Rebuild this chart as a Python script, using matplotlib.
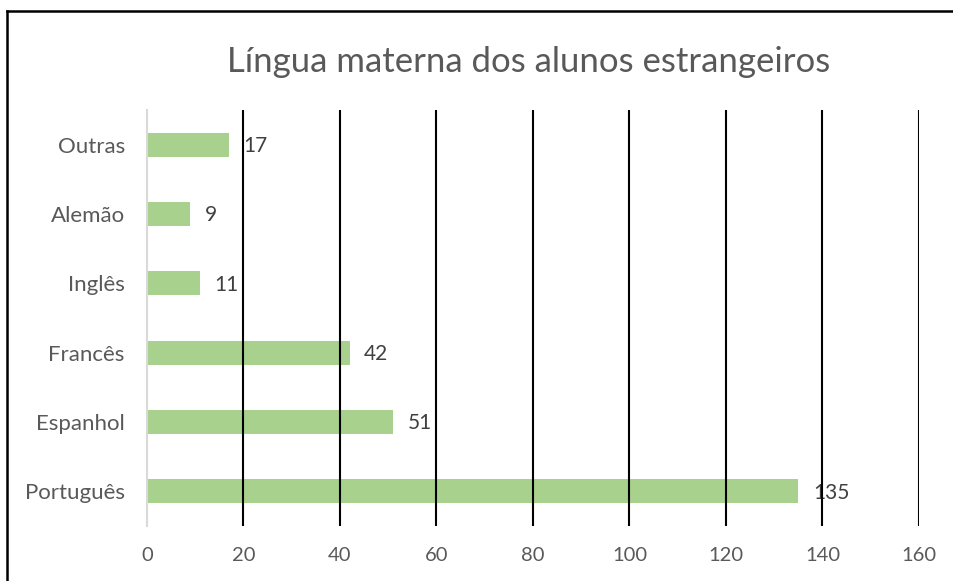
import matplotlib.pyplot as plt
from matplotlib.lines import Line2D

# Data
languages = ['Português', 'Espanhol', 'Francês', 'Inglês', 'Alemão', 'Outras']
students = [135, 51, 42, 11, 9, 17]
x_ticks = [0, 20, 40, 60, 80, 100, 120, 140, 160]

plt.rcParams['font.family'] = ['Lato', 'DejaVu Sans']

fig = plt.figure(figsize=(9.54, 5.81), dpi=100)
ax = fig.add_axes([147 / 954, 1 - 526 / 581, (919 - 147) / 954, (526 - 110) / 581])

ypos = list(range(len(languages)))
ax.barh(ypos, students, height=0.35, color='#A9D18E', zorder=3)

for y, v in zip(ypos, students):
    ax.text(v + 3, y - 0.02, str(v), va='center', ha='left',
            fontsize=15, color='#404040', zorder=2)

ax.set_xlim(0, 160)
ax.set_ylim(-0.5, len(languages) - 0.5)
ax.set_xticks(x_ticks)
ax.set_xticklabels([str(t) for t in x_ticks])
ax.set_yticks(ypos)
ax.set_yticklabels(languages)
ax.tick_params(axis='x', length=0, labelsize=14.5, colors='#595959', pad=15)
ax.tick_params(axis='y', length=0, labelsize=16, colors='#595959', pad=16)

# black vertical gridlines (no line at zero, the axis is drawn grey)
for t in x_ticks[1:]:
    ax.axvline(t, color='black', lw=1.5, zorder=4)

for s in ['top', 'right', 'bottom']:
    ax.spines[s].set_visible(False)
ax.spines['left'].set_color('#D9D9D9')
ax.spines['left'].set_linewidth(1.5)
ax.spines['left'].set_zorder(5)

fig.text(529 / 954, 1 - 62 / 581, 'Língua materna dos alunos estrangeiros',
         ha='center', va='center', fontsize=25, color='#595959')

# frame around the chart (top and left edges visible)
fig.add_artist(Line2D([7 / 954, 1], [1 - 11 / 581, 1 - 11 / 581], color='black', lw=1.8,
                      transform=fig.transFigure))
fig.add_artist(Line2D([7 / 954, 7 / 954], [0, 1 - 11 / 581], color='black', lw=1.8,
                      transform=fig.transFigure))

fig.savefig('out.png', dpi=100)
